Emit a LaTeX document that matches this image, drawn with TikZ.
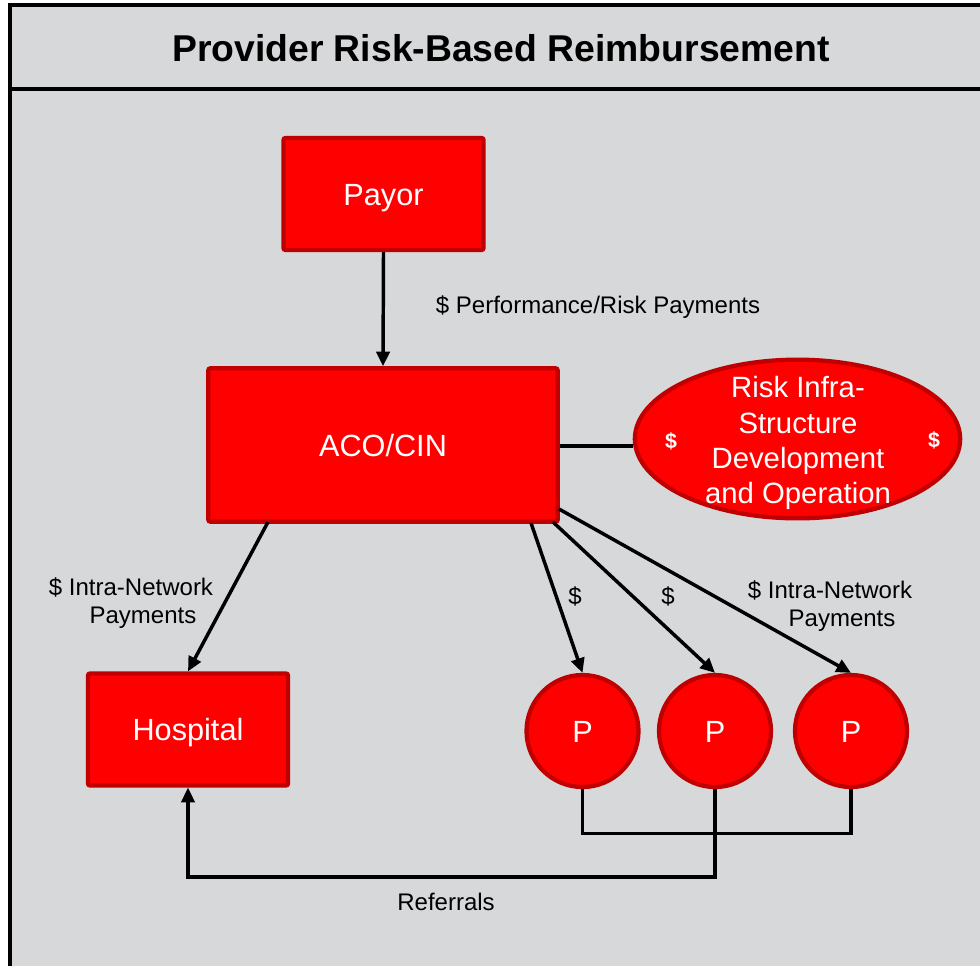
\documentclass[tikz,border=0pt]{standalone}
\usepackage{fontspec}
\setmainfont{Liberation Sans}
\usetikzlibrary{arrows.meta,shapes.geometric}
\definecolor{bggray}{RGB}{215,216,218}
\definecolor{boxred}{RGB}{255,0,0}
\definecolor{edgered}{RGB}{192,0,0}
\tikzset{
  redbox/.style={draw=edgered, fill=boxred, line width=3.2pt, rounded corners=1.5pt,
    text=white, font=\fontsize{23}{26}\selectfont, inner sep=0pt, text height=16.5pt, text depth=0pt},
  redcirc/.style={circle, draw=edgered, fill=boxred, line width=3.2pt, minimum size=84pt,
    text=white, font=\fontsize{23}{26}\selectfont, inner sep=0pt, text height=16.5pt, text depth=0pt},
  redell/.style={ellipse, draw=edgered, fill=boxred, line width=3.2pt, minimum width=244pt,
    minimum height=119pt, inner sep=0pt},
  arr/.style={line width=2.6pt, -{Triangle[length=11pt,width=10pt]}},
  plain/.style={line width=2.3pt},
  lbl/.style={font=\fontsize{18}{21}\selectfont, text=black, align=center, inner sep=0pt},
  framel/.style={line width=3.4pt}
}
\begin{document}
\begin{tikzpicture}[x=0.75pt,y=-0.75pt]
\useasboundingbox (0,0) rectangle (980,965);
\clip (0,0) rectangle (980,965);
\fill[white] (0,0) rectangle (980,965);
\fill[bggray] (10,5) rectangle (990,975);
\draw[framel] (10,975) -- (10,5) -- (990,5);
\draw[framel] (10,89) -- (990,89);
\node[font=\bfseries\fontsize{28}{32}\selectfont, inner sep=0pt] (title) at (501,48) {Provider Risk-Based Reimbursement};

\node[redbox, minimum width=150pt, minimum height=84pt] (payor) at (383.5,194) {Payor};
\node[redbox, minimum width=262pt, minimum height=115pt] (aco) at (383,445) {ACO/CIN};
\node[redell] (risk) at (797.5,439) {};
\node[text=white, align=center, font=\fontsize{22}{26.3}\selectfont, inner sep=0pt] (risktxt) at (798,443) {Risk Infra-\\Structure\\Development\\and Operation};
\node[text=white, font=\bfseries\fontsize{16}{18}\selectfont, inner sep=0pt] (d1) at (671,441) {\$};
\node[text=white, font=\bfseries\fontsize{16}{18}\selectfont, inner sep=0pt] (d2) at (934,440) {\$};
\node[redbox, minimum width=150pt, minimum height=84pt] (hosp) at (188,729.5) {Hospital};
\node[redcirc] (p1) at (582.5,731) {P};
\node[redcirc] (p2) at (715,731) {P};
\node[redcirc] (p3) at (851,731) {P};

\draw[arr] (payor.south) -- (aco.north);
\node[lbl] (l1) at (598,307) {\$ Performance/Risk Payments};

\draw[plain] (aco.east |- 0,446) -- (risk.west |- 0,446);

\coordinate (ah) at (268,522);
\draw[arr] (ah) -- (hosp.north);
\node[lbl] (l2) at (131,603) {\$ Intra-Network\\\hspace*{1em}Payments};

\coordinate (a1) at (531,523);
\coordinate (a2) at (553,522);
\coordinate (a3) at (559,509);
\draw[arr] (a1) -- (p1.north);
\draw[arr] (a2) -- (p2.north);
\draw[arr] (a3) -- (p3.north);
\node[lbl] (l3) at (575,596) {\$};
\node[lbl] (l4) at (668,596) {\$};
\node[lbl] (l5) at (830,606) {\$ Intra-Network\\\hspace*{1em}Payments};

\draw[plain] (p1.south) -- ++(0,44) -| (p3.south);
\draw[plain, -{Triangle[length=11pt,width=10pt]}] (p2.south) -- (715,877) -| (hosp.south);
\node[lbl] (ref) at (446,902) {Referrals};
\end{tikzpicture}
\end{document}
